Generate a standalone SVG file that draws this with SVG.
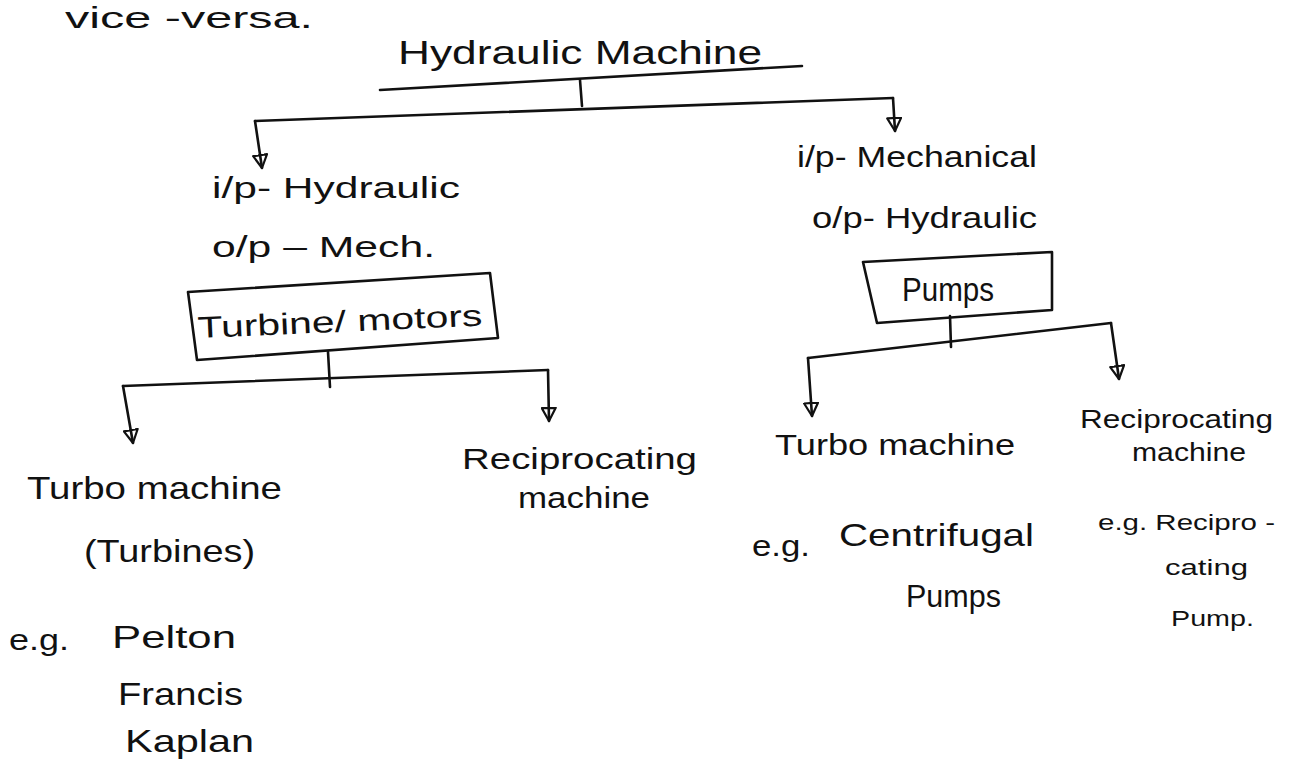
<svg xmlns="http://www.w3.org/2000/svg" width="1290" height="762" viewBox="0 0 1290 762">
<style>
text{font-family:"Liberation Sans","DejaVu Sans",sans-serif;fill:#111;}
.t30{font-size:30px;}
.t32{font-size:32px;}
.t26{font-size:26px;}
.t22{font-size:22px;}
.ln{fill:none;stroke:#111;stroke-width:2.6;stroke-linecap:round;stroke-linejoin:round;}
.arr{marker-end:url(#ah);}
.box{fill:none;stroke:#111;stroke-width:2.6;stroke-linejoin:round;}
</style>
<defs>
<marker id="ah" markerUnits="userSpaceOnUse" markerWidth="16" markerHeight="16" viewBox="0 0 16 16" refX="14" refY="8" orient="auto">
<path d="M1,1 L14,8 L1,15 Z" fill="none" stroke="#111" stroke-width="2.2" stroke-linejoin="round"/>
</marker>
</defs>
<rect width="1290" height="762" fill="#fff"/>

<g id="header">
<text x="65" y="28" style="font-size:30px" textLength="248" lengthAdjust="spacingAndGlyphs">vice -versa.</text>
</g>

<g id="connectors">
<path class="ln" d="M380,90 L802,66"/>
<path class="ln" d="M580,80 L582,106"/>
<path class="ln" d="M255,121 L893,98"/>
<path class="ln arr" d="M255,121 L262,168"/>
<path class="ln arr" d="M893,98 L895,131"/>
<path class="ln" d="M328,352 L330,387"/>
<path class="ln" d="M123,386 L548,370"/>
<path class="ln arr" d="M123,386 L133,443"/>
<path class="ln arr" d="M548,370 L549,421"/>
<path class="ln" d="M950,316 L951,347"/>
<path class="ln" d="M808,358 L1111,323"/>
<path class="ln arr" d="M808,358 L812,416"/>
<path class="ln arr" d="M1111,323 L1119,379"/>
</g>

<g id="root">
<text x="398" y="64" style="font-size:34px" textLength="364" lengthAdjust="spacingAndGlyphs">Hydraulic Machine</text>
</g>

<g id="turbine-io">
<text class="t30" x="212" y="198" textLength="248" lengthAdjust="spacingAndGlyphs">i/p- Hydraulic</text>
<text class="t30" x="212" y="257" textLength="223" lengthAdjust="spacingAndGlyphs">o/p – Mech.</text>
</g>

<g id="turbine-box">
<polygon class="box" points="188,292 490,273 498,338 197,360"/>
<text class="t30" x="198" y="338" textLength="285" lengthAdjust="spacingAndGlyphs" transform="rotate(-2.5 198 338)">Turbine/ motors</text>
</g>

<g id="pump-io">
<text class="t30" x="797" y="167" textLength="240" lengthAdjust="spacingAndGlyphs">i/p- Mechanical</text>
<text class="t30" x="812" y="228" textLength="225" lengthAdjust="spacingAndGlyphs">o/p- Hydraulic</text>
</g>

<g id="pumps-box">
<polygon class="box" points="863,262 1052,252 1052,310 877,323"/>
<text x="902" y="301" style="font-size:34px" textLength="92" lengthAdjust="spacingAndGlyphs">Pumps</text>
</g>

<g id="turbo-turbines">
<text class="t32" x="27" y="499" textLength="255" lengthAdjust="spacingAndGlyphs">Turbo machine</text>
<text class="t32" x="84" y="562" textLength="171" lengthAdjust="spacingAndGlyphs">(Turbines)</text>
<text class="t30" x="9" y="650" textLength="60" lengthAdjust="spacingAndGlyphs">e.g.</text>
<text class="t32" x="112" y="648" textLength="124" lengthAdjust="spacingAndGlyphs">Pelton</text>
<text class="t32" x="118" y="705" textLength="125" lengthAdjust="spacingAndGlyphs">Francis</text>
<text class="t32" x="125" y="752" textLength="129" lengthAdjust="spacingAndGlyphs">Kaplan</text>
</g>

<g id="recip-turbine">
<text class="t30" x="462" y="469" textLength="235" lengthAdjust="spacingAndGlyphs">Reciprocating</text>
<text class="t30" x="518" y="508" textLength="132" lengthAdjust="spacingAndGlyphs">machine</text>
</g>

<g id="turbo-pumps">
<text class="t30" x="775" y="455" textLength="240" lengthAdjust="spacingAndGlyphs">Turbo machine</text>
<text class="t30" x="752" y="556" textLength="58" lengthAdjust="spacingAndGlyphs">e.g.</text>
<text class="t32" x="839" y="546" textLength="195" lengthAdjust="spacingAndGlyphs">Centrifugal</text>
<text class="t32" x="906" y="607" textLength="95" lengthAdjust="spacingAndGlyphs">Pumps</text>
</g>

<g id="recip-pumps">
<text class="t26" x="1080" y="428" textLength="193" lengthAdjust="spacingAndGlyphs">Reciprocating</text>
<text class="t26" x="1132" y="461" textLength="114" lengthAdjust="spacingAndGlyphs">machine</text>
<text class="t22" x="1098" y="530" textLength="177" lengthAdjust="spacingAndGlyphs">e.g. Recipro -</text>
<text class="t22" x="1165" y="575" textLength="83" lengthAdjust="spacingAndGlyphs">cating</text>
<text class="t22" x="1171" y="626" textLength="83" lengthAdjust="spacingAndGlyphs">Pump.</text>
</g>
</svg>
